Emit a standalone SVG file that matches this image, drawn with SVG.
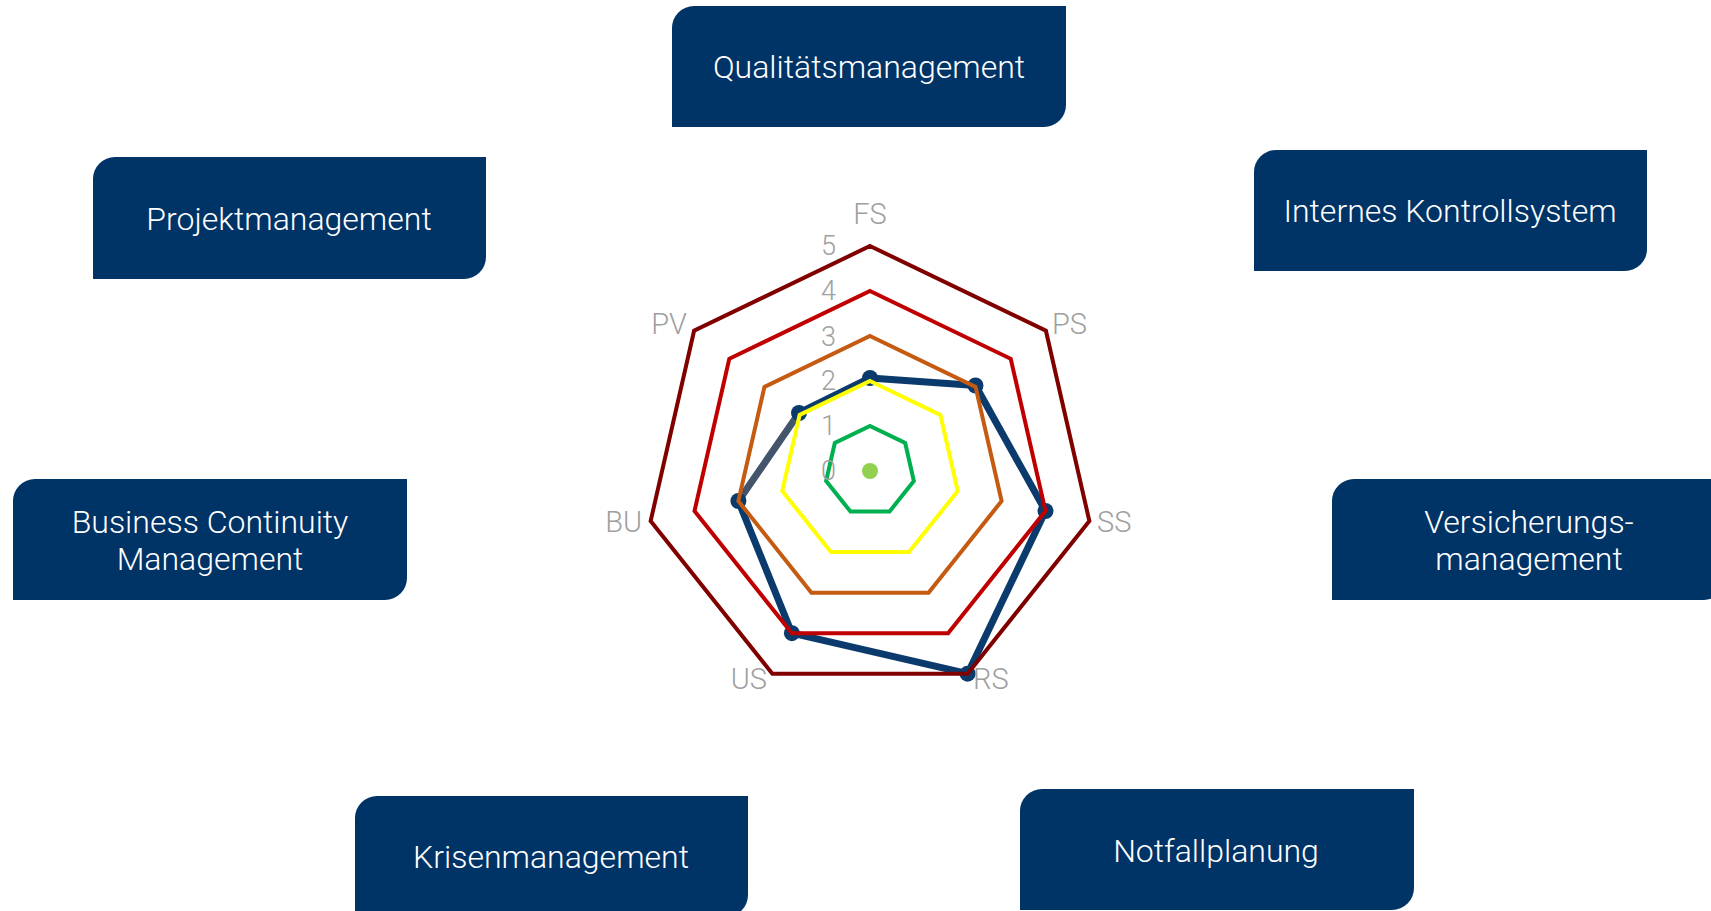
<svg xmlns="http://www.w3.org/2000/svg" width="1711" height="911" viewBox="0 0 1711 911">
<style>
.box{fill:#003366}
.bt{font-family:Roboto,"Liberation Sans",sans-serif;font-weight:300;font-size:32px;fill:#ffffff;text-anchor:middle}
.ax{font-family:Roboto,"Liberation Sans",sans-serif;font-weight:300;font-size:29px;fill:#a0a0a0}
.tk{font-family:Roboto,"Liberation Sans",sans-serif;font-weight:300;font-size:27px;fill:#a0a0a0;text-anchor:end}
.lv{fill:none;stroke-width:4;stroke-linejoin:miter}
.ser{fill:none;stroke:#0b3b6c;stroke-width:7;stroke-linejoin:round;stroke-linecap:round}
.mk{fill:#0b3b6c}
</style>
<rect width="1711" height="911" fill="#ffffff"/>
<g id="node-qualitaetsmanagement">
<path class="box" d="M694,6 H1066 V105 A22 22 0 0 1 1044,127 H672 V28 A22 22 0 0 1 694,6 Z"/>
<text class="bt" x="869" y="78">Qualitätsmanagement</text>
</g>
<g id="node-projektmanagement">
<path class="box" d="M115,157 H486 V257 A22 22 0 0 1 464,279 H93 V179 A22 22 0 0 1 115,157 Z"/>
<text class="bt" x="289" y="230">Projektmanagement</text>
</g>
<g id="node-internes-kontrollsystem">
<path class="box" d="M1276,150 H1647 V249 A22 22 0 0 1 1625,271 H1254 V172 A22 22 0 0 1 1276,150 Z"/>
<text class="bt" x="1450" y="222">Internes Kontrollsystem</text>
</g>
<g id="node-business-continuity-management">
<path class="box" d="M35,479 H407 V578 A22 22 0 0 1 385,600 H13 V501 A22 22 0 0 1 35,479 Z"/>
<text class="bt" x="210" y="533">Business Continuity</text>
<text class="bt" x="210" y="570">Management</text>
</g>
<g id="node-versicherungsmanagement">
<path class="box" d="M1354,479 H1726 V578 A22 22 0 0 1 1704,600 H1332 V501 A22 22 0 0 1 1354,479 Z"/>
<text class="bt" x="1529" y="533">Versicherungs-</text>
<text class="bt" x="1529" y="570">management</text>
</g>
<g id="node-krisenmanagement">
<path class="box" d="M377,796 H748 V895 A22 22 0 0 1 726,917 H355 V818 A22 22 0 0 1 377,796 Z"/>
<text class="bt" x="551" y="868">Krisenmanagement</text>
</g>
<g id="node-notfallplanung">
<path class="box" d="M1042,789 H1414 V888 A22 22 0 0 1 1392,910 H1020 V811 A22 22 0 0 1 1042,789 Z"/>
<text class="bt" x="1216" y="862">Notfallplanung</text>
</g>
<g id="radar-chart">
<g id="series">
<polyline class="ser" points="799,413 870,378 975.5,385.5 1045.5,511 967.6,673.7 791.9,633.2 738.4,501"/>
<line x1="738.4" y1="501" x2="799" y2="413" stroke="#44546a" stroke-width="7" stroke-linecap="round"/>
<circle class="mk" cx="870" cy="378" r="8"/>
<circle class="mk" cx="975.5" cy="385.5" r="8"/>
<circle class="mk" cx="1045.5" cy="511" r="8"/>
<circle class="mk" cx="967.6" cy="673.7" r="8"/>
<circle class="mk" cx="791.9" cy="633.2" r="8"/>
<circle class="mk" cx="738.4" cy="501" r="8"/>
<circle class="mk" cx="799" cy="413" r="8"/>
</g>
<g id="levels">
<polygon class="lv" stroke="#800000" points="870,246 1045.91,330.71 1089.36,521.07 967.62,673.72 772.38,673.72 650.64,521.07 694.09,330.71"/>
<polygon class="lv" stroke="#c00000" points="870,291 1010.73,358.77 1045.49,511.05 948.10,633.17 791.90,633.17 694.51,511.05 729.27,358.77"/>
<polygon class="lv" stroke="#c55a11" points="870,336 975.55,386.83 1001.62,501.04 928.57,592.63 811.43,592.63 738.38,501.04 764.45,386.83"/>
<polygon class="lv" stroke="#ffff00" points="870,381 940.36,414.89 957.74,491.03 909.05,552.09 830.95,552.09 782.26,491.03 799.64,414.89"/>
<polygon class="lv" stroke="#00b050" points="870,426 905.18,442.94 913.87,481.01 889.52,511.54 850.48,511.54 826.13,481.01 834.82,442.94"/>
<circle cx="870" cy="471" r="8" fill="#92d050"/>
</g>
<g id="tick-labels">
<text class="tk" x="836" y="480">0</text>
<text class="tk" x="836" y="435">1</text>
<text class="tk" x="836" y="390">2</text>
<text class="tk" x="836" y="346">3</text>
<text class="tk" x="836" y="300">4</text>
<text class="tk" x="836" y="255">5</text>
</g>
<g id="axis-labels">
<text class="ax" x="870" y="224" text-anchor="middle">FS</text>
<text class="ax" x="1052" y="334">PS</text>
<text class="ax" x="1097" y="532">SS</text>
<text class="ax" x="973" y="689">RS</text>
<text class="ax" x="767" y="689" text-anchor="end">US</text>
<text class="ax" x="642" y="532" text-anchor="end">BU</text>
<text class="ax" x="687" y="334" text-anchor="end">PV</text>
</g>
</g>
</svg>
